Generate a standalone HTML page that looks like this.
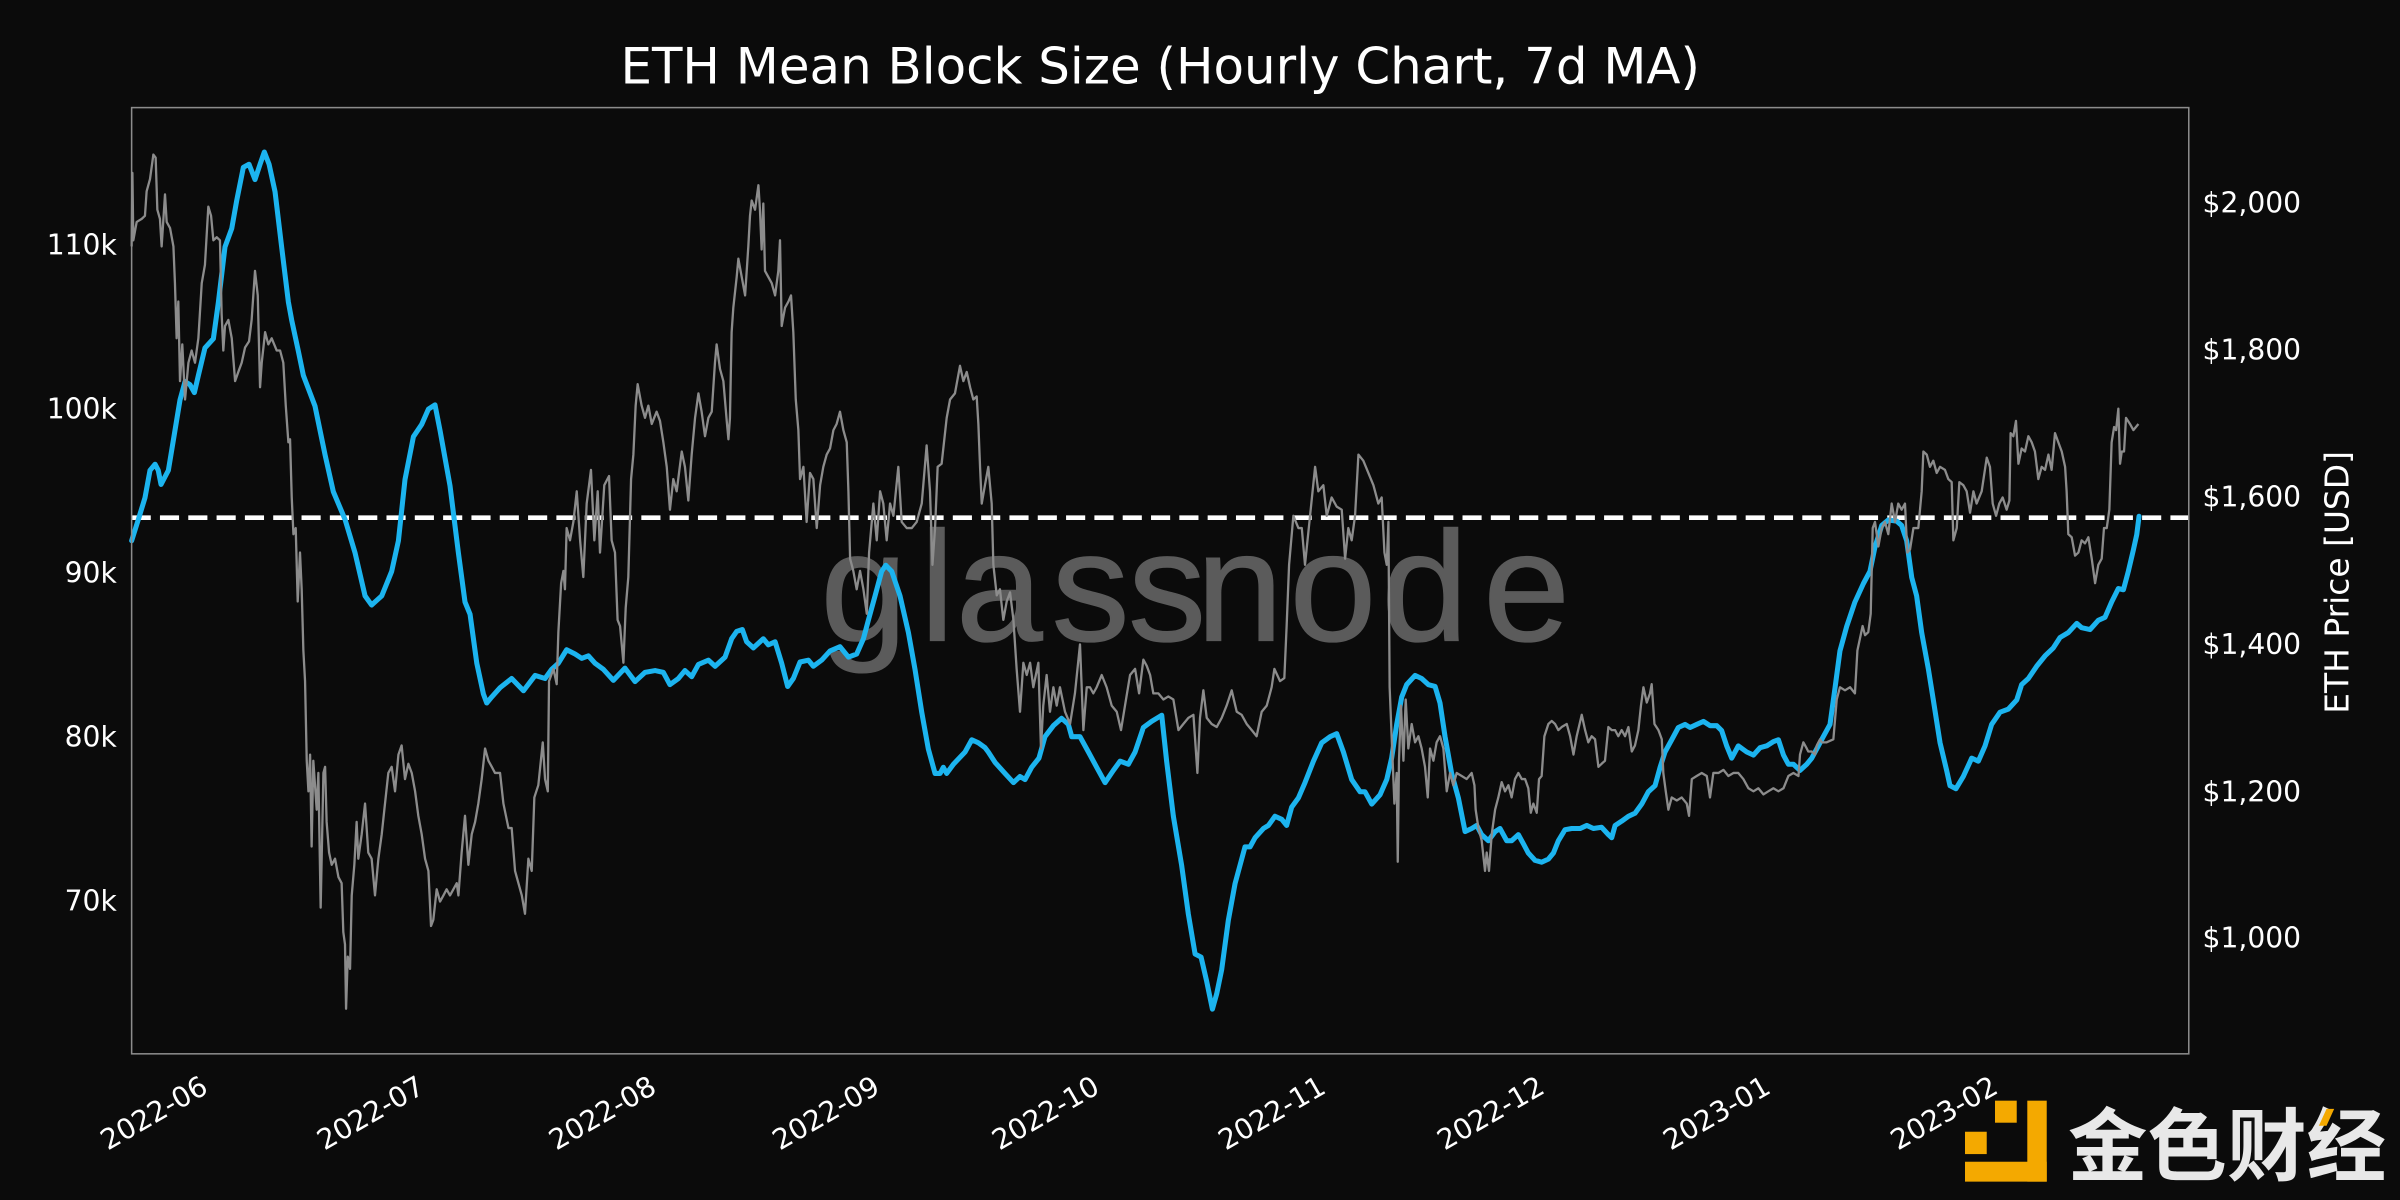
<!DOCTYPE html>
<html>
<head>
<meta charset="utf-8">
<style>
html,body{margin:0;padding:0;background:#0b0b0b;}
svg{display:block;}
</style>
</head>
<body>
<svg width="2400" height="1200" viewBox="0 0 1568 784" xmlns="http://www.w3.org/2000/svg">
<rect x="0" y="0" width="1568" height="784" fill="#0b0b0b"/>

<!-- title -->
<text x="758" y="54.4" text-anchor="middle" font-family="DejaVu Sans, Liberation Sans, sans-serif" font-size="32.6" fill="#ffffff">ETH Mean Block Size (Hourly Chart, 7d MA)</text>

<!-- watermark -->
<text x="536 601 624.5 687 737 781.5 842.5 902.5 969" y="418.5" font-family="Liberation Sans, Arial, sans-serif" font-size="102" fill="#5b5b5b" stroke="#5b5b5b" stroke-width="0.8">glassnode</text>

<!-- dashed reference line -->
<line x1="86" y1="338.2" x2="1430" y2="338.2" stroke="#ffffff" stroke-width="3" stroke-dasharray="12.5 6"/>

<!-- blue series -->
<polyline fill="none" stroke="#1cb4ef" stroke-width="3.3" stroke-linejoin="round" stroke-linecap="round" points="86,353.3 90.4,339.3 94.7,325.3 98,307.3 101.3,303.3 103.4,307.3 105.2,316.5 110,307.3 114.3,281.3 117.6,261.3 120.9,249.3 124.1,251.3 127,256.5 129.6,245.3 133.9,227.3 139.4,221.3 142.7,197.3 147,161.3 151.4,149.3 154.6,131.3 159,109.3 162.7,107.3 166.6,117.3 169.9,107.3 172.7,99.3 175.8,107.3 179.7,125.3 184,161.3 188.4,197.3 190.6,209.3 194.9,229.3 198.2,245.3 205.8,265.3 212.4,297.3 217.8,321.3 225.4,339.3 232,361.3 238.5,389.3 242.8,395.3 249.4,389.3 255.9,373.3 260.3,353.3 264.6,313.3 270.1,285.3 275.5,277.3 279.9,267.3 284.2,264.5 287.5,281.3 294,317.3 299.5,361.3 303.8,393.3 307.1,401.3 311.5,433.3 315.8,453.3 318,459.3 321.3,455.3 326.7,449.3 334.3,443.3 342,451.3 349.6,441.3 356.1,443.3 360.4,437.3 364.8,433.3 370.2,424.5 375.7,427.3 380,430.1 384.4,428.5 388.7,433.3 394.2,437.3 400.7,444.5 408.3,436.5 414.9,445.3 421.4,439.3 428,438.1 433.4,439.3 437.7,447.3 443.2,443.3 447.5,438.1 451.9,442.1 456.3,434.1 462.8,431.3 467.2,435.3 473.7,429.3 478,417.3 481.3,412.5 485,411.3 487.8,419.3 492.2,423.3 498.7,417.3 502,421.3 506.4,419.3 510.7,433.3 514.6,448.5 518.3,443.3 522.7,432.5 528.1,431.3 531.4,435.3 536.8,431.3 542.3,425.3 548.8,422.5 554.3,429.3 559.7,427.3 564.1,417.3 567.3,405.3 571.7,389.3 576,373.3 578.7,369.3 582.6,373.3 588,389.3 593.5,413.3 597.8,437.3 602.2,465.3 606.5,489.3 610.9,505.3 614.2,505.3 616.3,501.3 618.5,505.3 622.9,499.3 630.5,491.3 634.9,483.3 639.2,485.3 643.6,488.5 645.7,491.3 650.1,498.1 656.6,505.3 662.1,511.3 666.4,507.3 669.7,509.3 674,501.3 678.8,495.3 682.7,481.3 688.2,474.1 693.6,469.3 698,473.3 700.2,481.3 705.6,481.3 711.1,491.3 716.5,501.3 722,511.3 727.4,503.3 731.8,497.3 737.2,499.3 741.6,491.3 747,475.3 752.4,471.3 759,467.3 762.2,497.3 766.6,533.3 772,565.3 776.4,597.3 780.8,623.3 784.7,625.3 788.4,641.3 792.1,659.3 794.9,649.3 798.2,633.3 802.5,601.3 806.9,577.3 813.4,553.3 816.7,553.3 820,547.3 825.4,541.3 828.7,539.3 833,533.3 837.4,535.3 840.6,539.3 843.9,527.3 848.3,521.3 852.6,511.3 858.1,497.3 863.5,485.3 869,481.3 873.3,479.3 877.7,491.3 883.1,509.3 888.6,517.3 891.8,517.3 896.2,525.3 901.6,519.3 906,509.3 909.2,495.3 912.5,473.3 915.8,455.3 919,447.3 924.5,441.3 928.8,443.3 933.2,447.3 937.6,448.5 940.8,459.3 944.1,481.3 948.4,505.3 952.8,521.3 957.2,543.3 961.5,541.3 964.8,539.3 968,545.3 972.4,549.3 976.8,543.3 980,541.3 984.4,549.3 987.6,549.3 992,545.3 995.3,551.3 998.5,557.3 1002.9,562.1 1007.2,563.3 1011.6,561.3 1014.9,557.3 1018.1,549.3 1022.5,542.1 1026.8,541.3 1032.3,541.3 1036.7,539.3 1041,541.3 1046.4,540.5 1050.8,545.3 1053,547.3 1055.2,539.3 1059.5,536.5 1063.9,533.3 1068.2,531.3 1072.6,525.3 1076.9,517.3 1081.3,513.3 1084.6,501.3 1087.8,491.3 1092.2,483.3 1096.5,475.3 1100.9,473.3 1104.2,475.3 1108.5,473.3 1112.9,471.3 1117.2,474.1 1121.6,474.1 1124.8,477.3 1128.1,487.3 1131.4,495.3 1135.7,487.3 1141.2,491.3 1145.6,493.3 1149.9,488.5 1154.3,487.3 1158.6,484.5 1161.9,483.3 1165.2,493.3 1168.4,499.3 1171.7,499.3 1176,503.3 1180.4,499.3 1183.7,495.3 1188,487.3 1191.2,481.3 1195.6,473.3 1198.9,449.3 1202.1,425.3 1206.5,409.3 1211.9,393.3 1217.4,381.3 1221.7,373.3 1225,357.3 1229.4,343.3 1233.7,339.7 1239.2,340.5 1242.4,343.3 1245.7,353.3 1249,377.3 1252.2,389.3 1255.5,413.3 1259.9,437.3 1263.1,457.3 1267.5,485.3 1271.8,503.3 1274,513.3 1277.9,515.3 1282.7,507.3 1288.2,495.3 1292.5,497.3 1296.9,487.3 1301.2,473.3 1306.7,465.3 1312.1,463.3 1317.6,457.3 1320.8,447.3 1325.2,443.3 1330.6,435.3 1336.1,428.5 1341.5,423.3 1345.9,416.5 1351.3,413.3 1356.8,407.3 1360,410.1 1365.5,411.3 1370.9,405.3 1375.3,403.3 1379.6,393.3 1384,384.5 1387.3,385.3 1390.5,373.3 1393.8,359.3 1396,349.3 1397.5,337.3"/>

<!-- gray price series -->
<polyline fill="none" stroke="#8c8c8c" stroke-width="1.5" stroke-linejoin="round" points="86,161 86.5,113 87.1,157 89.3,145 92.6,143 94.7,141 95.8,125 98,117 100.2,101 101.7,103 102.8,137 104.5,143 105.6,161 107.8,127 108.9,145 111.1,149 113.3,161 114.3,185 115.4,221 116.5,197 117.6,249 119.1,225 120.9,261 123.1,237 125.2,229 127.4,237 129.6,221 131.8,185 133.9,173 136.1,135 137.9,141 139.4,157 141.6,155 143.7,157 144.8,205 145.9,229 147,213 149.2,209 151.4,221 153.6,249 155.7,243 157.9,237 160.1,227 162.7,223 164.4,209 166.6,177 168.4,193 169.9,253 171,237 173.2,217 175.3,225 177.5,221 180.8,229 183,229 185.1,237 186.7,265 188.4,289 189.5,287 190.6,325 191.7,349 193.2,345 194.5,393 196,361 197.1,385 198.2,425 199.3,445 200.4,497 201.5,517 202.6,493 203.6,553 204.7,497 206.9,529 208,505 209.5,593 211.3,505 212.4,501 213.4,537 215,557 216.7,565 218.9,561 221.1,573 223.2,577 224.3,609 225.4,617 226.1,659 227.2,625 228.7,633 229.8,585 231.5,565 233,537 234.1,561 236.3,545 238.5,525 240.6,557 242.8,561 245,585 247.2,561 249.4,545 251.1,529 253.7,505 255.9,501 258.1,517 260.3,493 262.4,487 264.6,509 266.8,499 269,505 271.2,517 273.3,533 275.5,545 277.7,561 279.9,569 281.6,605 283.1,601 285.3,581 287.5,589 289.7,585 291.8,581 294,585 296.2,581 298.4,577 299.5,585 301.6,557 303.8,533 306,565 308.2,545 310.4,537 312.5,525 314.7,509 316.9,489 319.1,497 321.3,501 323.4,505 326.7,505 328.9,525 332.2,541 334.3,541 336.5,569 338.7,577 340.9,585 343,597 345.2,561 347.4,569 349.1,521 351.7,513 354.6,485 356.1,509 357.9,517 358.7,445 361.6,437 363.7,447 364.8,413 366.6,381 368.1,373 369.1,385 370.2,345 372.4,353 374.6,341 376.8,321 379,353 381.1,377 383.3,329 386.1,307 388.3,353 390.5,321 392,361 394.8,317 397.9,311 399.6,353 401.8,361 403.5,405 405.1,409 407.3,433 408.8,397 410.5,377 412.3,313 413.8,297 415.3,265 416.6,251 419.2,265 421.4,273 423.6,265 425.8,277 429,269 431.2,275 433.4,289 435.6,305 437.7,333 439.9,313 442.1,321 445.4,295 447.5,305 449.7,327 451.9,297 454.1,273 456.3,257 458.4,269 460.6,285 462.8,273 465,269 467.1,237 468.2,225 470.4,241 472.6,249 474.8,275 475.9,287 476.9,273 478,217 479.1,201 481.3,181 482.4,169 484.6,181 486.8,193 488.9,161 490,141 491.1,131 493.3,137 495.5,121 496.5,137 497.6,163 498.7,133 499.8,177 502,181 504.2,185 506.4,193 508.5,177 509.6,157 510.7,213 512.9,201 515.1,197 516.8,193 518.3,217 519.9,261 521.6,281 522.7,313 524.9,305 527,341 529.2,309 531.4,313 533.6,345 535.8,317 537.9,305 540.1,297 542.3,293 544.5,281 546.6,277 548.8,269 551,281 553.2,289 554.3,321 555.4,365 557.5,373 559.7,385 561.9,373 564.1,385 566.3,401 567.8,361 570.6,329 572.8,353 575,321 577.1,329 579.3,353 581.5,329 583.7,337 586.9,305 589.1,341 592.4,345 595.7,345 598.9,341 602.2,329 605.4,291 607.6,321 609.2,369 610.9,345 612.6,305 615.2,303 618.5,273 620.7,261 623.9,257 627.2,239 629.4,249 631.6,243 633.8,253 635.9,261 638.1,259 639.2,277 640.3,305 641.4,329 643.5,317 645.7,305 647.9,329 649,369 651.2,389 653.3,385 655.5,405 657.7,393 659.9,387 662.1,405 664.2,437 666.4,465 668.6,433 670.8,441 673,433 675.1,449 678.4,433 680.1,489 681.6,461 683.8,441 686,465 688.2,449 690.4,461 692.5,449 695.8,465 699.1,473 702.3,453 705.6,421 707.8,477 710,449 712.1,449 714.3,453 716.5,449 719.8,441 723,449 726.3,461 729.6,465 732.4,477 735,461 738.3,441 741.6,437 744.2,453 747,431 749.2,435 751.4,441 753.5,453 756.8,453 760.1,457 763.3,455 766.6,457 769.9,477 773.1,473 776.4,469 779.7,467 782.3,505 784,469 786.2,451 788.4,469 791.6,473 794.9,475 798.2,469 801.4,461 804.7,451 808,465 811.2,467 814.5,473 817.8,477 821,481 824.3,465 827.6,461 830.8,449 832.6,437 836.3,445 839.1,443 840.6,409 842.2,369 845,337 848.3,345 850.5,345 852.6,369 855.9,337 859.2,305 861.3,321 864.6,317 866.8,337 870,325 873.3,331 876.6,333 878.8,365 880.9,345 883.1,353 885.3,337 887.5,297 890.7,301 894,309 897.3,317 900.5,329 902.7,325 904.5,361 906,369 907.1,341 907.9,449 909.2,481 911,525 912.5,505 913.2,563 914,497 915.3,461 916.9,497 918.4,457 920.1,489 922.3,473 924.5,485 926.7,481 928.8,489 931,501 932.8,521 934.3,489 936.5,497 938.6,485 940.8,481 943,489 945.2,517 947.4,505 949.5,513 951.7,505 955,507 958.2,509 961.5,505 963.3,513 964.1,529 965.9,541 968,549 970.2,569 971.3,557 972.8,569 974.6,545 976.8,529 978.9,521 981.1,511 983.3,517 985.5,513 987.6,521 989.8,509 992,505 994.2,509 996.4,509 998.5,515 1000.1,531 1001.8,525 1004,531 1005.5,509 1007.2,507 1009,481 1011.6,473 1013.8,471 1016,473 1018.1,477 1020.3,475 1023.6,473 1025.8,481 1028,493 1030.1,481 1033.4,467 1035.6,477 1037.7,485 1039.9,481 1042.1,483 1044.3,501 1046.4,499 1048.6,497 1050.8,475 1053,477 1055.2,477 1057.3,481 1059.5,477 1061.7,481 1063.9,475 1066.1,491 1068.2,487 1070.4,477 1072.1,461 1073.7,449 1075.9,459 1078,453 1079.1,447 1080.9,473 1083.5,477 1085.7,483 1086.7,505 1088.3,517 1090,529 1092.2,521 1095.5,523 1098.7,521 1102,525 1103.5,533 1105.3,509 1108.5,507 1111.8,505 1115.1,507 1117.2,521 1119.4,505 1122.7,505 1126,503 1129.2,507 1132.5,505 1135.7,505 1139,509 1142.3,515 1145.6,517 1148.8,515 1152.1,519 1155.3,517 1158.6,515 1161.9,517 1165.2,515 1168.4,507 1171.7,505 1175,507 1176,493 1178.2,485 1180.4,489 1181.4,491 1183.7,491 1185.8,493 1187,487 1189.1,483 1190.2,485 1193.4,485 1197.8,483 1200,457 1202.1,449 1205.4,451 1208.7,449 1211.9,453 1213.5,425 1215.2,417 1216.9,409 1218.5,415 1220.6,413 1222.2,401 1223.5,345 1225,341 1227.2,357 1229.4,345 1231.5,341 1233.7,349 1235.9,329 1238.1,341 1240.2,329 1242.4,333 1244.6,329 1246.1,361 1247.9,359 1250.1,345 1253.3,345 1255.5,321 1256.6,295 1258.8,297 1260.9,305 1263.1,301 1265.3,309 1267.5,305 1270.7,307 1272.9,313 1275.1,315 1276.2,353 1278.4,345 1280.1,315 1282.7,317 1284.9,321 1287.1,335 1289.3,321 1291.4,329 1294.7,321 1298,299 1300.1,305 1301.9,329 1304.1,337 1306.2,329 1308.4,325 1311,333 1312.8,327 1313.6,283 1315.4,285 1317.1,275 1318.7,303 1320.8,293 1323,295 1325.2,285 1327.4,289 1329.5,295 1331.7,313 1333.9,305 1336.1,307 1338.3,297 1340.4,307 1342.6,283 1344.8,289 1347,295 1349.2,305 1350.2,321 1351.3,349 1353.5,351 1355.7,363 1357.9,361 1360,353 1362.2,355 1364.4,351 1366.6,365 1368.8,381 1370.9,369 1373.1,365 1374.6,345 1376.4,345 1378.1,333 1379.6,289 1381.2,279 1382.5,281 1384,267 1385.1,303 1386.2,295 1387.7,295 1389,273 1391.6,277 1393.8,281 1397.1,277"/>

<!-- axes frame -->
<rect x="86" y="70.3" width="1344" height="618.2" fill="none" stroke="#8c8c8c" stroke-width="1"/>

<!-- left tick labels -->
<g font-family="DejaVu Sans, Liberation Sans, sans-serif" font-size="18.4" fill="#ffffff" text-anchor="end">
<text x="76.3" y="166.2">110k</text>
<text x="76.3" y="273.4">100k</text>
<text x="76.3" y="380.6">90k</text>
<text x="76.3" y="487.8">80k</text>
<text x="76.3" y="595">70k</text>
</g>

<!-- right tick labels -->
<g font-family="DejaVu Sans, Liberation Sans, sans-serif" font-size="18.4" fill="#ffffff" text-anchor="start">
<text x="1439" y="138.9">$2,000</text>
<text x="1439" y="235">$1,800</text>
<text x="1439" y="331">$1,600</text>
<text x="1439" y="427.2">$1,400</text>
<text x="1439" y="523.5">$1,200</text>
<text x="1439" y="618.9">$1,000</text>
</g>

<!-- right axis label -->
<text transform="translate(1534.3,380.5) rotate(-90)" text-anchor="middle" font-family="DejaVu Sans, Liberation Sans, sans-serif" font-size="21.5" fill="#ffffff">ETH Price [USD]</text>

<!-- x tick labels -->
<g font-family="DejaVu Sans, Liberation Sans, sans-serif" font-size="18.4" fill="#ffffff" text-anchor="end">
<text transform="translate(137,713.4) rotate(-30)">2022-06</text>
<text transform="translate(278.5,713.4) rotate(-30)">2022-07</text>
<text transform="translate(430,713.4) rotate(-30)">2022-08</text>
<text transform="translate(576,713.4) rotate(-30)">2022-09</text>
<text transform="translate(719.5,713.4) rotate(-30)">2022-10</text>
<text transform="translate(867.3,713.4) rotate(-30)">2022-11</text>
<text transform="translate(1010.3,713.4) rotate(-30)">2022-12</text>
<text transform="translate(1158,713.4) rotate(-30)">2023-01</text>
<text transform="translate(1306.5,713.4) rotate(-30)">2023-02</text>
</g>

<!-- logo -->
<g fill="#f4a900">
<rect x="1303.4" y="719.1" width="14.2" height="14.4"/>
<rect x="1324.5" y="719.1" width="12.7" height="52.9"/>
<rect x="1283.8" y="739.4" width="14.2" height="14.6"/>
<rect x="1283.8" y="759" width="53.4" height="13"/>
</g>
<text x="1351" y="767.5" textLength="208" lengthAdjust="spacingAndGlyphs" font-family="Liberation Sans, Noto Sans CJK SC, sans-serif" font-weight="bold" font-size="52" fill="#e8e8e8">金色财经</text>
<polygon points="1520,724.5 1525,724.5 1520,735.5 1515,735.5" fill="#f4a900"/>
</svg>
</body>
</html>
